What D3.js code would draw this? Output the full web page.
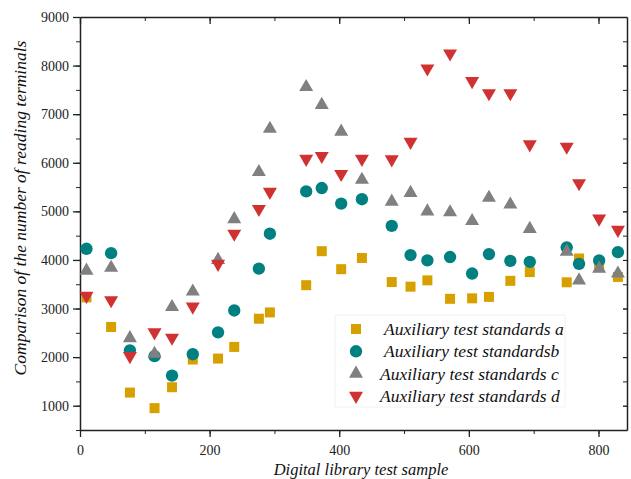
<!DOCTYPE html>
<html>
<head>
<meta charset="utf-8">
<script src="https://cdn.jsdelivr.net/npm/d3@7"></script>
<style>
  body { margin: 0; background: #fff; }
  svg { display: block; font-family: "Liberation Serif", "Times New Roman", serif; }
  svg text { font-family: "Liberation Serif", "Times New Roman", serif !important; }
  .axis path, .axis line { stroke: #222; }
  .axis path { stroke-width: 1.5; }
</style>
</head>
<body>
<div id="chart"></div>
<script>
// sample positions along the x axis
const samples = [10, 48, 77, 115, 142, 174, 213, 238, 276, 293, 349, 373, 403, 435, 481, 510, 536, 571, 605, 631, 664, 694, 751, 770, 801, 830];

const seriesA = [3230, 2620, 1270, 950, 1380, 1950, 1970, 2210, 2790, 2920, 3480, 4180, 3810, 4040, 3545, 3450, 3580, 3200, 3210, 3240, 3570, 3750, 3540, 4030, 3850, 3650];
const seriesB = [4230, 4140, 2140, 2020, 1620, 2060, 2510, 2960, 3820, 4540, 5410, 5480, 5160, 5250, 4700, 4100, 3990, 4060, 3720, 4120, 3980, 3960, 4260, 3920, 3990, 4160];
const seriesC = [3780, 3840, 2390, 2070, 3030, 3350, 4000, 4840, 5810, 6700, 7560, 7190, 6640, 5650, 5200, 5380, 5000, 4980, 4800, 5280, 5140, 4640, 4170, 3580, 3820, 3720];
const seriesD = [3260, 3170, 2020, 2510, 2400, 3040, 3920, 4540, 5050, 5400, 6080, 6140, 5770, 6080, 6070, 6430, 7940, 8250, 7680, 7430, 7430, 6380, 6330, 5580, 4850, 4620];

const seriesNames = ['Auxiliary test standards a', 'Auxiliary test standardsb', 'Auxiliary test standards c', 'Auxiliary test standards d'];
const colors = ['#d6a000', '#008080', '#808080', '#d03232'];
const xTicks = [0, 200, 400, 600, 800];
const yTicks = [1000, 2000, 3000, 4000, 5000, 6000, 7000, 8000, 9000];

const width = 631, height = 479;
const margin = { left: 80, right: 4, top: 17, bottom: 49 };

const svg = d3.select('#chart').append('svg')
  .attr('width', width).attr('height', height);

const x = d3.scaleLinear().domain([0, 844]).range([margin.left, width - margin.right]);
const y = d3.scaleLinear().domain([500, 9000]).range([height - margin.bottom, margin.top]);

const xMinor = d3.range(0, 844, 100);
const yMinor = d3.range(500, 9001, 500);

// minor ticks first, then major axes on top
function minorTicks(g, axis) {
  g.call(axis).call(s => s.selectAll('text').remove()).call(s => s.select('.domain').remove());
}
function serifLabels(g) {
  g.attr('font-family', null).attr('font-size', null);
  g.selectAll('text')
    .style('font-family', 'Liberation Serif, serif')
    .attr('font-size', 14).attr('fill', '#222');
  g.selectAll('line').attr('stroke-width', 1.3);
}

svg.append('g').attr('class', 'axis').attr('transform', `translate(0,${y(500)})`)
  .call(g => minorTicks(g, d3.axisBottom(x).tickValues(xMinor).tickSize(4)));
svg.append('g').attr('class', 'axis').attr('transform', `translate(0,${y(9000)})`)
  .call(g => minorTicks(g, d3.axisBottom(x).tickValues(xMinor).tickSize(4)));
svg.append('g').attr('class', 'axis').attr('transform', `translate(${x(0)},0)`)
  .call(g => minorTicks(g, d3.axisLeft(y).tickValues(yMinor).tickSize(4)));
svg.append('g').attr('class', 'axis').attr('transform', `translate(${x(844)},0)`)
  .call(g => minorTicks(g, d3.axisLeft(y).tickValues(yMinor).tickSize(4)));

svg.append('g').attr('class', 'axis').attr('transform', `translate(0,${y(500)})`)
  .call(d3.axisBottom(x).tickValues(xTicks).tickFormat(d3.format('d')).tickSize(7).tickSizeOuter(0).tickPadding(8))
  .call(serifLabels);
svg.append('g').attr('class', 'axis').attr('transform', `translate(0,${y(9000)})`)
  .call(d3.axisBottom(x).tickValues(xTicks).tickSize(7).tickSizeOuter(0).tickFormat(''))
  .call(serifLabels);
svg.append('g').attr('class', 'axis').attr('transform', `translate(${x(0)},0)`)
  .call(d3.axisLeft(y).tickValues(yTicks).tickFormat(d3.format('d')).tickSize(7).tickSizeOuter(0).tickPadding(4))
  .call(serifLabels);
svg.append('g').attr('class', 'axis').attr('transform', `translate(${x(844)},0)`)
  .call(d3.axisLeft(y).tickValues(yTicks).tickSize(4).tickSizeOuter(0).tickFormat(''));

// markers
const shapes = [
  d3.symbol().type(d3.symbolSquare).size(100),
  d3.symbol().type(d3.symbolCircle).size(120),
  d3.symbol().type(d3.symbolTriangle).size(85),
  d3.symbol().type(d3.symbolTriangle).size(85)
];
const allSeries = [seriesA, seriesB, seriesC, seriesD];

allSeries.forEach((vals, i) => {
  svg.append('g').selectAll('path')
    .data(vals.map((v, j) => ({ x: samples[j], y: v })))
    .join('path')
    .attr('d', shapes[i])
    .attr('fill', colors[i])
    .attr('transform', d => `translate(${x(d.x)},${y(d.y)})` + (i === 3 ? ' rotate(180)' : ''));
});

// legend
const legend = svg.append('g').attr('transform', 'translate(335,315)');
legend.append('rect').attr('width', 230).attr('height', 92)
  .attr('fill', '#fff').attr('stroke', '#f2f2f2');
seriesNames.forEach((name, i) => {
  const row = legend.append('g').attr('transform', `translate(0,${14 + i * 22.3})`);
  row.append('path').attr('d', shapes[i]).attr('fill', colors[i])
    .attr('transform', 'translate(21,0)' + (i === 3 ? ' rotate(180)' : ''));
  row.append('text').attr('x', i < 2 ? 49 : 45).attr('y', 6)
    .attr('font-size', 17.5).attr('font-style', 'italic').attr('fill', '#111')
    .text(name);
});

// axis titles
svg.append('text')
  .attr('x', 361).attr('y', 475)
  .attr('text-anchor', 'middle').attr('font-size', 16.5).attr('font-style', 'italic').attr('fill', '#111')
  .text('Digital library test sample');
svg.append('text')
  .attr('transform', 'translate(26,208) rotate(-90)')
  .attr('text-anchor', 'middle').attr('font-size', 17.5).attr('font-style', 'italic').attr('fill', '#111')
  .text('Comparison of the number of reading terminals');
</script>
</body>
</html>
